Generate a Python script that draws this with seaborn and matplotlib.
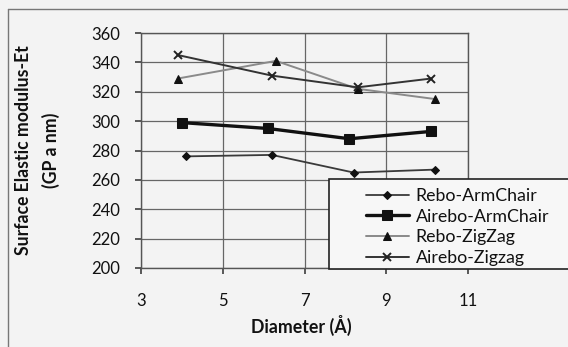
import matplotlib
matplotlib.use("Agg")
import matplotlib.pyplot as plt
import seaborn as sns
import pandas as pd
from matplotlib.patches import Rectangle
from matplotlib.lines import Line2D

# ---- data ----
series_names = ["Rebo-ArmChair", "Airebo-ArmChair", "Rebo-ZigZag", "Airebo-Zigzag"]
diam_rebo_ac = [4.1, 6.2, 8.2, 10.2]
mod_rebo_ac = [276, 277, 265, 267]
diam_airebo_ac = [4.0, 6.1, 8.1, 10.1]
mod_airebo_ac = [299, 295, 288, 293]
diam_rebo_zz = [3.9, 6.3, 8.3, 10.2]
mod_rebo_zz = [329, 341, 322, 315]
diam_airebo_zz = [3.9, 6.2, 8.3, 10.1]
mod_airebo_zz = [345, 331, 323, 329]
x_ticks = [3, 5, 7, 9, 11]
y_ticks = [200, 220, 240, 260, 280, 300, 320, 340, 360]

frames = []
for name, xs, ys in zip(series_names,
                        [diam_rebo_ac, diam_airebo_ac, diam_rebo_zz, diam_airebo_zz],
                        [mod_rebo_ac, mod_airebo_ac, mod_rebo_zz, mod_airebo_zz]):
    frames.append(pd.DataFrame({"Diameter": xs, "Modulus": ys, "Series": name}))
df = pd.concat(frames, ignore_index=True)

styles = {
    "Rebo-ArmChair": dict(color="#3a3a3a", linewidth=1.3, marker="D", markersize=4,
                          markerfacecolor="#111111", markeredgecolor="#111111"),
    "Airebo-ArmChair": dict(color="#111111", linewidth=2.4, marker="s", markersize=6.5,
                            markerfacecolor="#111111", markeredgecolor="#111111"),
    "Rebo-ZigZag": dict(color="#8a8a8a", linewidth=1.4, marker="^", markersize=5.5,
                        markerfacecolor="#111111", markeredgecolor="#111111"),
    "Airebo-Zigzag": dict(color="#333333", linewidth=1.4, marker="x", markersize=5.5,
                          markeredgewidth=1.4, markeredgecolor="#222222"),
}

sns.set_theme(style="white")
plt.rcParams['font.family'] = ['Lato', 'DejaVu Sans']

bg = "#f3f3f3"
fig = plt.figure(figsize=(5.68, 3.47), dpi=100, facecolor=bg)
ax = fig.add_axes([141/568, 1-268/347, (468-141)/568, (268-33)/347])
ax.set_facecolor(bg)

for name in series_names:
    sub = df[df["Series"] == name]
    sns.lineplot(data=sub, x="Diameter", y="Modulus", ax=ax, label=name,
                 estimator=None, sort=False, zorder=3, **styles[name])

ax.set_xlim(3, 11)
ax.set_ylim(200, 360)
ax.set_xticks(x_ticks)
ax.set_yticks(y_ticks)
ax.grid(True, color="#666666", linewidth=0.9)
for s in ax.spines.values():
    s.set_color("#555555")
    s.set_linewidth(1.0)
ax.tick_params(axis="both", which="both", bottom=True, left=True, direction="out",
               length=4, color="#444444", labelsize=12, labelcolor="#111111")
ax.tick_params(axis="x", pad=14)
ax.tick_params(axis="y", pad=11)

ax.set_xlabel("Diameter (Å)", fontsize=12.8, fontweight="bold", color="#111111")
ax.xaxis.set_label_coords((301-141)/327, (268-325)/235)
ax.xaxis.label.set_va("center")
ax.set_ylabel("Surface Elastic modulus-Et\n(GP a nm)", fontsize=12.7, fontweight="bold",
              color="#111111", linespacing=1.6)
ax.yaxis.set_label_coords((37.5-141)/327, 0.5)
ax.yaxis.label.set_va("center")

# legend box
rect = Rectangle((329/568, 1-269/347), (575-329)/568, (269-179)/347,
                 transform=fig.transFigure, facecolor="#f7f7f7", edgecolor="#222222",
                 linewidth=1.2, zorder=4, clip_on=False)
ax.add_patch(rect)
handles, labels = ax.get_legend_handles_labels()
leg = ax.legend(handles, labels, loc="upper left",
                bbox_to_anchor=(357/568, 1-179/347), bbox_transform=fig.transFigure,
                frameon=False, borderpad=0, fontsize=12.8, handlelength=2.4,
                handletextpad=0.4, labelspacing=0.26)
leg.set_zorder(5)
for t in leg.get_texts():
    t.set_color("#111111")

# outer chart border
fig.add_artist(Line2D([8/568, 8/568], [0, 1-9/347], color="#777777", linewidth=1.0))
fig.add_artist(Line2D([8/568, 1], [1-9/347, 1-9/347], color="#777777", linewidth=1.0))

fig.savefig("out.png", dpi=100, facecolor=bg)
